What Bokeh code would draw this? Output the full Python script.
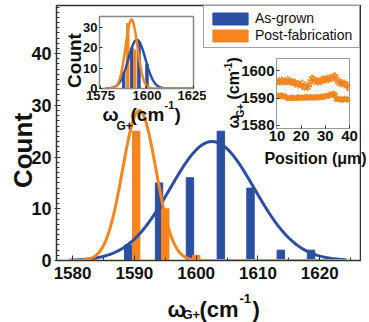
import numpy as np
from bokeh.plotting import figure
from bokeh.models import Range1d, FixedTicker, Legend, LegendItem
from bokeh.core.properties import value
from bokeh.embed import file_html
from bokeh.resources import INLINE

FONT = "Liberation Sans"
BLUE = "#2b4fa3"
ORANGE = "#f7851f"
INK = "#111111"

# ---------------- main histogram data ----------------
blue_centers = [1589, 1594, 1599, 1604, 1608.8, 1613.7, 1618.6]
blue_counts = [3, 15, 16, 25, 14, 2, 2]
orange_centers = [1590.3, 1595.0, 1600.0]
orange_counts = [25, 10, 1]
# Gaussian fits: [amplitude, centre, sigma]
blue_fit = [23.0, 1602.6, 6.8]
orange_fit = [29.0, 1590.8, 2.7]
main_xticks = [1580, 1590, 1600, 1610, 1620]
main_yticks = [0, 10, 20, 30, 40]

# ---------------- inset 1 (histogram) ----------------
in1_blue_centers = [1587.5, 1591.9, 1595.7, 1600.0]
in1_blue_counts = [8, 20, 23, 12]
in1_orange_centers = [1589.7, 1593.5]
in1_orange_counts = [32, 19]
in1_blue_fit = [24.0, 1594.6, 4.6]
in1_orange_fit = [34.0, 1591.7, 3.2]
in1_xticks = [1575, 1600, 1625]
in1_yticks = [0, 10, 20, 30]

# ---------------- inset 2 (position scan) ----------------
position = [10 + 0.5 * i for i in range(61)]
upper_omega = [1596.0, 1595.6, 1596.4, 1595.8, 1596.6, 1596.1, 1595.7,
               1596.3, 1596.0, 1596.8, 1595.9, 1596.2, 1595.6, 1596.0, 1595.4, 1595.8, 1595.2,
               1594.8, 1595.3, 1594.5, 1594.9, 1595.5, 1594.2,
               1594.0, 1593.7, 1594.4, 1594.1, 1595.0,
               1596.2, 1597.3, 1597.0, 1596.6, 1596.0,
               1595.8, 1596.3, 1595.6, 1596.1, 1596.6, 1596.9, 1596.4,
               1597.0, 1596.6, 1597.3, 1596.8, 1597.4, 1597.0, 1597.6,
               1597.9, 1598.1,
               1597.2, 1596.3, 1595.6, 1595.9, 1595.2, 1595.7, 1595.0, 1595.4,
               1594.6, 1594.9, 1594.0, 1593.6]
lower_omega = [1590.6, 1590.9, 1590.5, 1590.8, 1591.0, 1590.7, 1590.4,
               1590.6, 1590.2, 1590.0, 1589.8, 1590.1, 1589.9, 1590.2, 1590.0, 1589.8, 1590.1,
               1590.0, 1590.3, 1590.1, 1589.9, 1590.2, 1590.0,
               1590.3, 1590.1, 1590.4, 1590.0, 1590.2,
               1590.4, 1590.1, 1590.3, 1590.0, 1590.2,
               1590.4, 1590.1, 1590.3, 1590.5, 1590.2, 1590.4, 1590.6,
               1590.5, 1590.8, 1590.6, 1591.0, 1591.3, 1591.1, 1591.5,
               1591.6, 1591.2,
               1589.8, 1589.5, 1589.7, 1589.4, 1589.6, 1589.3, 1589.5, 1589.7,
               1589.4, 1589.6, 1589.3, 1589.5]
in2_xticks = [10, 20, 30, 40]
in2_yticks = [1580, 1590, 1600]


def gauss(xs, fit):
    a, c, s = fit
    xs = np.asarray(xs)
    return a * np.exp(-((xs - c) ** 2) / (2 * s * s))


def style_axes(p, size_x, size_y):
    for ax in (p.xaxis[0], p.yaxis[0]):
        ax.axis_line_color = "#333333"
        ax.major_tick_line_color = "#333333"
        ax.minor_tick_line_color = "#333333"
        ax.major_label_text_font = FONT
        ax.major_label_text_font_style = "bold"
        ax.major_label_text_color = INK
    p.xaxis[0].major_label_text_font_size = size_x
    p.yaxis[0].major_label_text_font_size = size_y
    p.xgrid.visible = False
    p.ygrid.visible = False


# ================= main figure =================
p = figure(width=361, height=314, x_range=Range1d(1577.4, 1626.6), y_range=Range1d(0, 49.3),
           output_backend="svg", toolbar_location=None,
           min_border_left=56, min_border_right=1, min_border_top=5, min_border_bottom=54)
p.outline_line_color = "#333333"
p.outline_line_width = 1.5
style_axes(p, "17px", "18px")
p.xaxis.ticker = FixedTicker(ticks=main_xticks, minor_ticks=list(range(1575, 1630, 5)))
p.yaxis.ticker = FixedTicker(ticks=main_yticks, minor_ticks=list(range(0, 50)))
p.xaxis.major_tick_in = 5
p.xaxis.major_tick_out = 0
p.xaxis.minor_tick_in = 3
p.xaxis.minor_tick_out = 0
p.xaxis.major_label_standoff = 6
p.yaxis.major_tick_in = 4
p.yaxis.major_tick_out = 2
p.yaxis.minor_tick_in = 3
p.yaxis.minor_tick_out = 0
p.yaxis.major_label_standoff = 3

rb = p.vbar(x=blue_centers, top=blue_counts, width=1.2, color=BLUE)
ro = p.vbar(x=orange_centers, top=orange_counts, width=1.2, color=ORANGE)
xs = np.linspace(1579.5, 1624.3, 300)
p.line(xs, gauss(xs, blue_fit), line_color=BLUE, line_width=3)
p.line(xs, gauss(xs, orange_fit), line_color=ORANGE, line_width=3)

legend = Legend(items=[LegendItem(label="As-grown", renderers=[rb]),
                       LegendItem(label="Post-fabrication", renderers=[ro])],
                location="top_right", margin=0, padding=4, spacing=1,
                glyph_width=44, glyph_height=15, label_standoff=3, label_height=16,
                label_width=100,
                label_text_font=FONT, label_text_font_size="14px", label_text_color=INK,
                border_line_color="#444444", border_line_width=1)
p.add_layout(legend)

# ================= inset 1 =================
q = figure(width=150, height=112, x_range=Range1d(1574.5, 1625.01), y_range=Range1d(0, 35.5),
           output_backend="svg", toolbar_location=None,
           min_border_left=43, min_border_right=13, min_border_top=4, min_border_bottom=36,
           styles={"position": "absolute", "left": "56px", "top": "12px"})
q.border_fill_color = None
q.background_fill_color = "white"
q.outline_line_color = "#888888"
q.outline_line_width = 1.5
style_axes(q, "13px", "13px")
q.xaxis.ticker = FixedTicker(ticks=in1_xticks)
q.yaxis.ticker = FixedTicker(ticks=in1_yticks)
for ax in (q.xaxis[0], q.yaxis[0]):
    ax.axis_line_color = "#888888"
    ax.major_tick_in = 3
    ax.major_tick_out = 0
    ax.minor_tick_line_color = None
    ax.major_label_standoff = 2

q.vbar(x=in1_blue_centers, top=in1_blue_counts, width=1.3, color=BLUE)
q.vbar(x=in1_orange_centers, top=in1_orange_counts, width=1.3, color=ORANGE)
xs1 = np.linspace(1577.5, 1625, 300)
q.line(xs1, gauss(xs1, in1_blue_fit), line_color=BLUE, line_width=2.5)
q.line(xs1, gauss(xs1, in1_orange_fit), line_color=ORANGE, line_width=2.5)

# ================= inset 2 =================
r = figure(width=150, height=112, x_range=Range1d(9.8, 40.01), y_range=Range1d(1578.9, 1604.4),
           output_backend="svg", toolbar_location=None,
           min_border_left=58, min_border_right=19, min_border_top=6, min_border_bottom=36,
           styles={"position": "absolute", "left": "218px", "top": "52px"})
r.border_fill_color = None
r.background_fill_color = "white"
r.outline_line_color = "#999999"
r.outline_line_width = 1
style_axes(r, "15px", "15px")
r.xaxis.ticker = FixedTicker(ticks=in2_xticks)
r.yaxis.ticker = FixedTicker(ticks=in2_yticks)
for ax in (r.xaxis[0], r.yaxis[0]):
    ax.axis_line_color = "#999999"
    ax.major_tick_in = 3
    ax.major_tick_out = 0
    ax.minor_tick_line_color = None
    ax.major_label_standoff = 2

r.scatter(position, upper_omega, marker="star", size=7, line_color=ORANGE,
          fill_alpha=0, line_width=1)
r.scatter(position, lower_omega, marker="star", size=6, line_color=ORANGE,
          fill_color=ORANGE, line_width=1)

# ================= axis titles (transparent overlay measured in page pixels) =================
PAGE_W, PAGE_H = 369, 322
t = figure(width=PAGE_W, height=PAGE_H, x_range=Range1d(0, PAGE_W), y_range=Range1d(0, PAGE_H),
           output_backend="svg", toolbar_location=None, min_border=0,
           x_axis_type=None, y_axis_type=None,
           styles={"position": "absolute", "left": "0px", "top": "0px"})
t.outline_line_color = None
t.background_fill_color = None
t.border_fill_color = None
t.xgrid.visible = False
t.ygrid.visible = False


def title_text(x, y_from_top, text, size, angle=0.0, align="left", baseline="alphabetic"):
    t.text(x=[x], y=[PAGE_H - y_from_top], text=[text], text_font=value(FONT),
           text_font_style="bold", text_font_size=value(size), text_color=INK,
           angle=angle, text_align=align, text_baseline=baseline)


UP = np.pi / 2  # counter-clockwise: reads bottom to top


def vtitle(x_mid, y_from_top, text, size, align="left"):
    title_text(x_mid, y_from_top, text, size, angle=UP, align=align, baseline="middle")


# main figure titles
vtitle(22, 150, "Count", "26px", align="center")
title_text(167, 309, "ω", "22px")
title_text(182, 314, "G+", "13px")
title_text(199, 309, "(cm", "22px")
title_text(239, 298, "-1", "13px")
title_text(252, 309, ")", "22px")
# inset 1 titles
vtitle(74, 60, "Count", "19px", align="center")
title_text(102, 114, "ω", "19px")
title_text(116, 125, "G+", "12px")
title_text(130, 114, "(cm", "19px")
title_text(164, 104, "-1", "11px")
title_text(174, 114, ")", "19px")
# inset 2 titles
title_text(315, 158, "Position (μm)", "16px", align="center")
vtitle(233, 128, "ω", "16px")
vtitle(240, 117, "G+", "10px")
vtitle(233, 99, "(cm", "16px")
vtitle(227, 71, "-1", "10px")
vtitle(233, 62, ")", "16px")

open("out.html", "w").write(file_html([p, q, r, t], INLINE))
